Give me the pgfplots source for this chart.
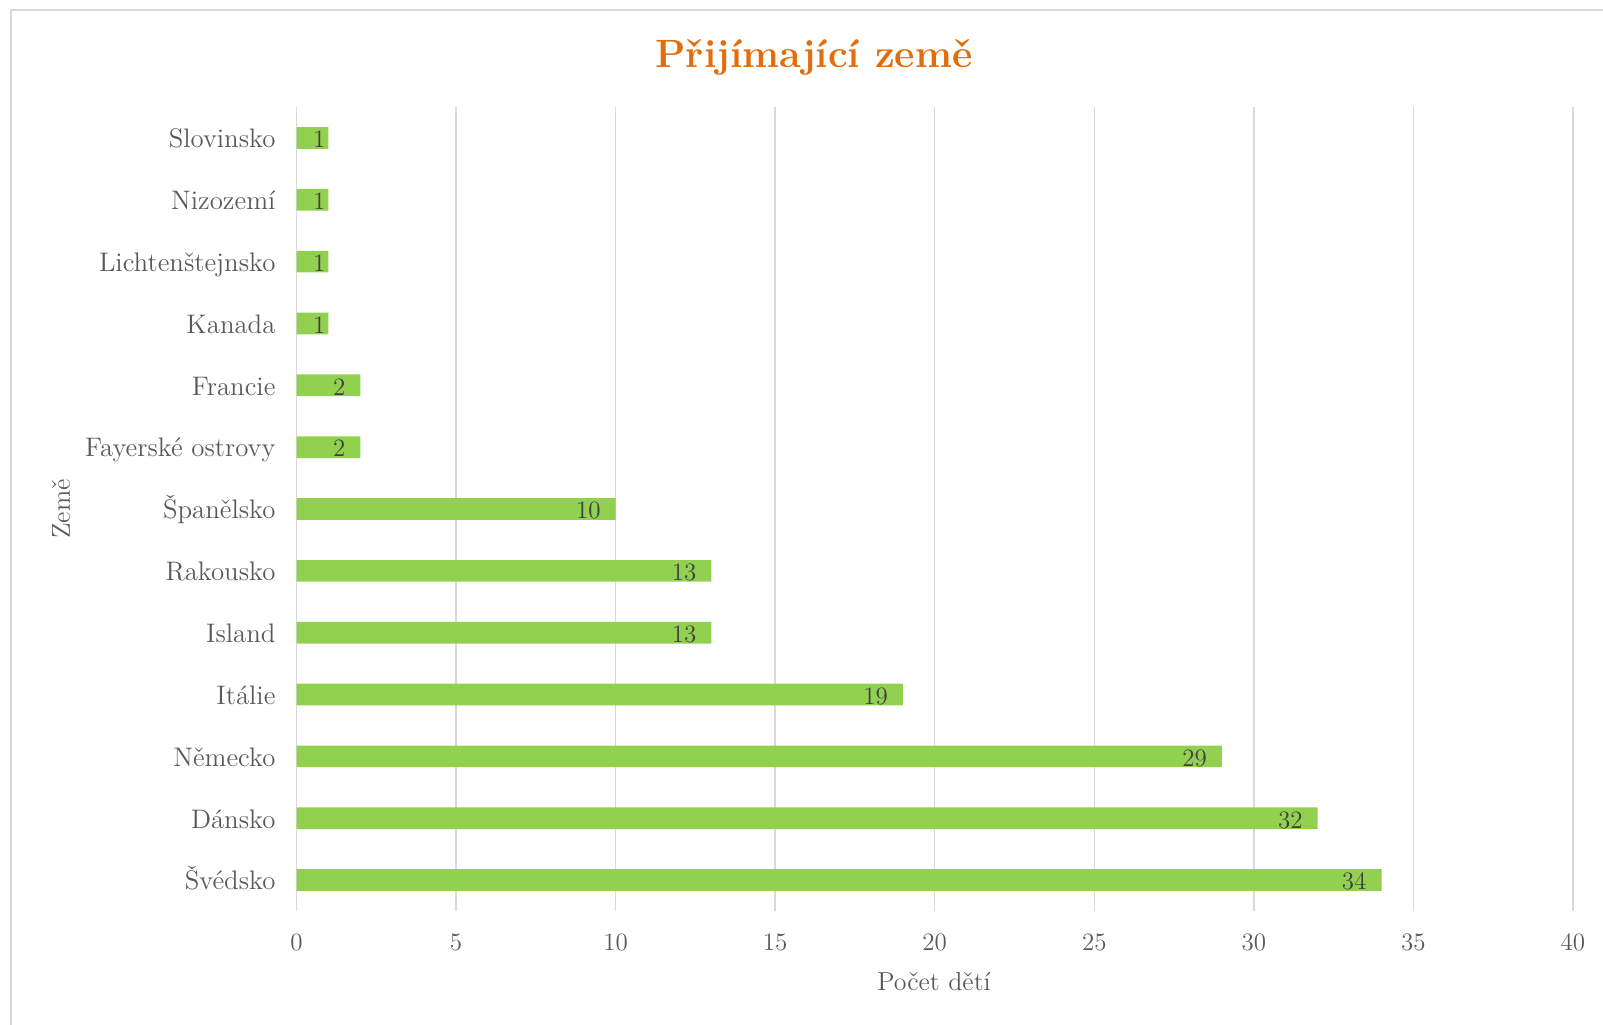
\documentclass[border=0pt]{standalone}
\usepackage{pgfplots}
\pgfplotsset{compat=1.18}
\definecolor{gridc}{HTML}{D9D9D9}
\definecolor{textc}{HTML}{595959}
\definecolor{valc}{HTML}{404040}
\definecolor{barc}{HTML}{92D050}
\definecolor{titlec}{RGB}{228,108,10}
\begin{document}
\begin{tikzpicture}
\useasboundingbox (0,0) rectangle (801.5pt,-512pt);
\draw[color=gridc, line width=1pt] (5.5pt,-520pt) -- (5.5pt,-5pt) -- (810pt,-5pt);
\begin{axis}[
  at={(148.25pt,-455.5pt)}, anchor=south west,
  scale only axis, width=638.25pt, height=402pt,
  xbar, bar width=10.85pt,
  xmin=0, xmax=40, ymin=-0.5, ymax=12.5,
  xtick={0,5,...,40}, ytick={0,...,12},
  yticklabels={Švédsko,Dánsko,Německo,Itálie,Island,Rakousko,Španělsko,Fayerské ostrovy,Francie,Kanada,Lichtenštejnsko,Nizozemí,Slovinsko},
  xmajorgrids, grid style={gridc, line width=0.7pt},
  axis line style={draw=none}, major tick length=0pt,
  /pgf/number format/assume math mode=true,
  xticklabel style={font=\fontsize{12.5}{15}\selectfont, text=textc, yshift=-8pt},
  yticklabel style={font=\fontsize{13.4}{16}\selectfont, text=textc, xshift=-7pt, text height=0.68em, text depth=0pt, yshift=-1.5pt},
  visualization depends on={x \as \rawx},
  nodes near coords,
  nodes near coords style={anchor=east, xshift={ifthenelse(\rawx<1.5,2,-4)*1pt}, font=\fontsize{12.5}{15}\selectfont, text=valc, text height=0.68em, text depth=0pt, yshift=-1.5pt},
  clip=false,
]
\addplot[fill=barc, draw=none] coordinates {
(34,0) (32,1) (29,2) (19,3) (13,4) (13,5) (10,6) (2,7) (2,8) (1,9) (1,10) (1,11) (1,12)
};
\end{axis}
\node[text=titlec, font=\bfseries\fontsize{19.75}{23}\selectfont] at (407pt,-28.5pt) {Přijímající země};
\node[text=textc, font=\fontsize{13}{16}\selectfont] at (467pt,-491pt) {Počet dětí};
\node[text=textc, font=\fontsize{13}{16}\selectfont, rotate=90] at (30.5pt,-254.5pt) {Země};
\end{tikzpicture}
\end{document}
